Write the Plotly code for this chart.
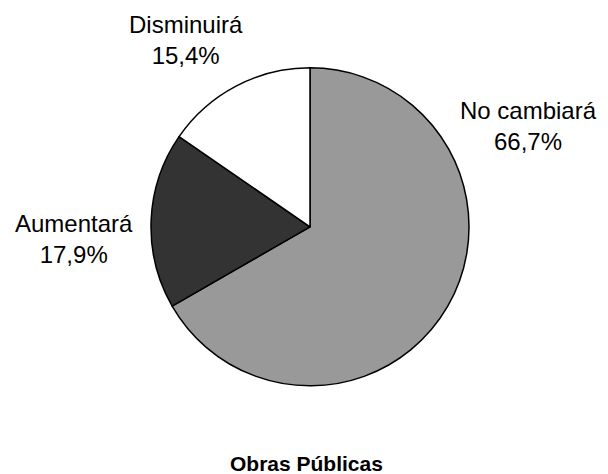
import plotly.graph_objects as go

categories = ["No cambiará", "Aumentará", "Disminuirá"]
values = [66.7, 17.9, 15.4]
colors = ["#999999", "#333333", "#FFFFFF"]
title_text = "Obras Públicas"

W, H = 608, 474

fig = go.Figure(go.Pie(
    labels=categories,
    values=values,
    sort=False,
    direction="clockwise",
    rotation=0,
    textinfo="none",
    hoverinfo="label+percent",
    marker=dict(colors=colors, line=dict(color="#000000", width=1.5)),
    domain=dict(x=[151 / W, 469 / W], y=[1 - 386 / H, 1 - 67.7 / H]),
    showlegend=False,
))

def fmt(v):
    return f"{v:.1f}".replace(".", ",") + "%"

label_pos = {
    "No cambiará": (528, 126),
    "Aumentará": (74, 239),
    "Disminuirá": (185.5, 39.5),
}

annotations = []
for cat, v in zip(categories, values):
    px, py = label_pos[cat]
    annotations.append(dict(
        text=f"{cat}<br>{fmt(v)}",
        x=px / W, y=1 - py / H, xref="paper", yref="paper",
        xanchor="center", yanchor="middle", showarrow=False,
        font=dict(family="Liberation Sans, Arial", size=24, color="#000000"),
    ))

annotations.append(dict(
    text=f"<b>{title_text}</b>",
    x=306 / W, y=1 - 463.5 / H, xref="paper", yref="paper",
    xanchor="center", yanchor="middle", showarrow=False,
    font=dict(family="Liberation Sans, Arial", size=21, color="#000000"),
))

fig.update_layout(
    width=W, height=H,
    margin=dict(l=0, r=0, t=0, b=0),
    paper_bgcolor="#FFFFFF",
    plot_bgcolor="#FFFFFF",
    annotations=annotations,
)

fig.write_html(
    "out.html",
    config={"displayModeBar": False},
    post_script="document.body.style.margin='0';document.body.style.overflow='hidden';",
)
